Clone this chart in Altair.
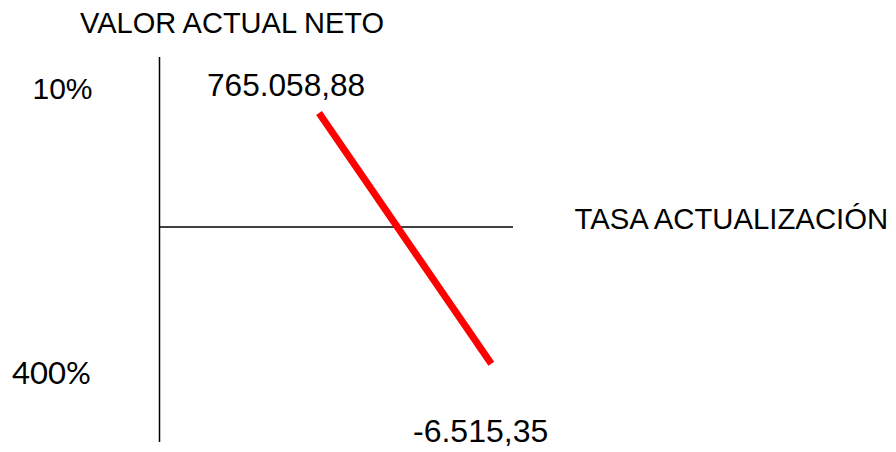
import altair as alt
import pandas as pd

# Schematic coordinates: origin at the crossing of the two axes
# (x to the right, y upward), in drawing units.
axis_names = ["vertical", "horizontal"]
axis_x1 = [0.0, 0.0]
axis_y1 = [170.0, 0.0]
axis_x2 = [0.0, 353.5]
axis_y2 = [-215.0, 0.0]

# VAN line: from rate 10% (VAN 765.058,88) to rate 400% (VAN -6.515,35)
van_x1 = [159.5]
van_y1 = [114.0]
van_x2 = [331.8]
van_y2 = [-136.7]

label_texts = ["VALOR ACTUAL NETO", "10%", "765.058,88", "TASA ACTUALIZACIÓN", "-6.515,35"]
label_x = [-79.5, -127.0, 47.5, 415.0, 253.5]
label_y = [194.0, 128.0, 131.0, -2.0, -215.0]
label_size = [29, 30, 31.6, 29.3, 32]

low_rate_text = ["400%"]
low_rate_x = [-147.5]
low_rate_y = [-157.0]

X_DOMAIN = [-151.5, 728.5]
Y_DOMAIN = [-225.0, 219.0]

xs = alt.Scale(domain=X_DOMAIN, nice=False, zero=False)
ys = alt.Scale(domain=Y_DOMAIN, nice=False, zero=False)

axes_df = pd.DataFrame({"name": axis_names, "x1": axis_x1, "y1": axis_y1, "x2": axis_x2, "y2": axis_y2})
van_df = pd.DataFrame({"x1": van_x1, "y1": van_y1, "x2": van_x2, "y2": van_y2})
labels_df = pd.DataFrame({"t": label_texts, "x": label_x, "y": label_y, "s": label_size})
low_df = pd.DataFrame({"t": low_rate_text, "x": low_rate_x, "y": low_rate_y})

axes_layer = alt.Chart(axes_df).mark_rule(color="black", strokeWidth=1.5).encode(
    x=alt.X("x1:Q", scale=xs, axis=None),
    y=alt.Y("y1:Q", scale=ys, axis=None),
    x2="x2:Q",
    y2="y2:Q",
)

van_layer = alt.Chart(van_df).mark_rule(color="#ff0000", strokeWidth=7, strokeCap="butt").encode(
    x=alt.X("x1:Q", scale=xs, axis=None),
    y=alt.Y("y1:Q", scale=ys, axis=None),
    x2="x2:Q",
    y2="y2:Q",
)

labels_layer = alt.Chart(labels_df).mark_text(
    align="left", baseline="alphabetic", font="Liberation Sans", color="black"
).encode(
    x=alt.X("x:Q", scale=xs, axis=None),
    y=alt.Y("y:Q", scale=ys, axis=None),
    text="t:N",
    size=alt.Size("s:Q", scale=None, legend=None),
)

low_layer = alt.Chart(low_df).mark_text(
    align="left", baseline="alphabetic", font="Lato", fontSize=31, color="black"
).encode(
    x=alt.X("x:Q", scale=xs, axis=None),
    y=alt.Y("y:Q", scale=ys, axis=None),
    text="t:N",
)

chart = alt.layer(axes_layer, van_layer, labels_layer, low_layer).properties(
    width=880, height=444, padding=0, autosize=alt.AutoSizeParams(type="none"),
    background="white",
).configure_view(stroke=None)

chart.save("out.html", embed_options={"renderer": "svg", "actions": False})
